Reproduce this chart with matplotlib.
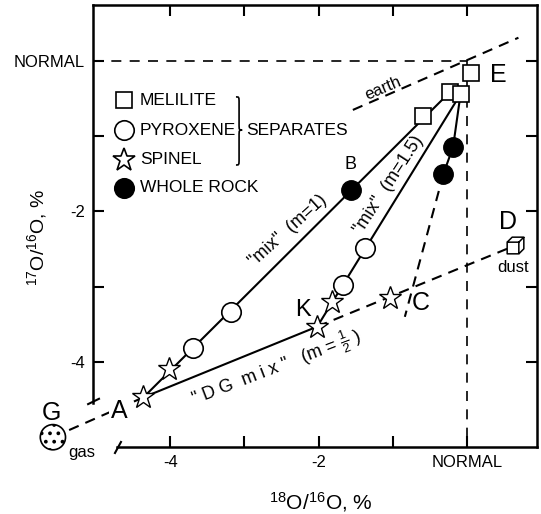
import matplotlib
matplotlib.use('Agg')
import matplotlib.pyplot as plt
from matplotlib.path import Path
from matplotlib.patches import PathPatch

plt.rcParams['font.family'] = ['Liberation Sans', 'DejaVu Sans']
plt.rcParams['mathtext.default'] = 'regular'
plt.rcParams['hatch.linewidth'] = 1.5

# delta 18O / delta 17O in %
melilite_x = [0.05, -0.23, -0.09, -0.59]
melilite_y = [-0.16, -0.41, -0.44, -0.73]
pyroxene_x = [-1.37, -1.67, -3.18, -3.69]
pyroxene_y = [-2.49, -2.98, -3.34, -3.81]
spinel_x = [-4.36, -4.01, -2.02, -1.82, -1.04]
spinel_y = [-4.47, -4.09, -3.53, -3.20, -3.15]
rock_x = [-1.56, -0.19, -0.32]
rock_y = [-1.71, -1.14, -1.50]

# end members
gas_x, gas_y = -5.58, -5.00
dust_x, dust_y = 0.65, -2.45

# mixing lines
mix1_x, mix1_y = [-4.36, -0.23], [-4.47, -0.41]
mix15_x, mix15_y = [-2.02, -0.09], [-3.53, -0.44]
dg_x, dg_y = [-4.36, -2.02], [-4.47, -3.53]
ga_x, ga_y = [gas_x, -4.36], [gas_y, -4.47]
kd_x, kd_y = [-2.02, dust_x], [-3.53, dust_y]
rock_x_line, rock_y_line = [-0.09, -0.19, -0.32], [-0.44, -1.14, -1.50]
rock_dash_x, rock_dash_y = [-0.32, -0.84], [-1.50, -3.40]
earth_x, earth_y = [-1.54, 0.69], [-0.65, 0.31]

xticks = [-4, -3, -2, -1, 0]
xticklabels = ['-4', '', '-2', '', 'NORMAL']
yticks = [-4, -3, -2, -1, 0]
yticklabels = ['-4', '', '-2', '', 'NORMAL']

# point letters
letters = ['E', 'B', 'C', 'D', 'K', 'A', 'G']
letters_x = [0.42, -1.57, -0.63, 0.55, -2.21, -4.69, -5.60]
letters_y = [-0.19, -1.38, -3.22, -2.14, -3.31, -4.65, -4.68]
letters_size = [18, 13, 18, 18, 17, 18, 18]

XMIN, XMAX = -5.04, 0.94
YMIN, YMAX = -5.13, 0.745

fig = plt.figure(figsize=(5.41, 5.14), dpi=100)
ax = fig.add_axes([0.1719, 0.1304, 0.8207, 0.8599])
ax.set_xlim(XMIN, XMAX)
ax.set_ylim(YMIN, YMAX)

lw = 1.5
dash = (0, (5, 3.5))

# normal lines
ax.plot([XMIN, 0], [0, 0], color='k', lw=1.2, ls=(0, (6, 5)), zorder=1)
ax.plot([0, 0], [0, YMIN], color='k', lw=1.2, ls=(0, (6, 5)), zorder=1)
# earth line
ax.plot(earth_x, earth_y, color='k', lw=lw, ls=dash, zorder=1)
ax.text(-1.13, -0.36, 'earth', fontsize=12, rotation=23, ha='center', va='center')

# gas - dust line
ax.plot(ga_x, ga_y, color='k', lw=lw, ls=dash, zorder=1, clip_on=False)
ax.plot(kd_x, kd_y, color='k', lw=lw, ls=dash, zorder=1)
ax.plot(dg_x, dg_y, color='k', lw=lw, zorder=2)
ax.plot(mix1_x, mix1_y, color='k', lw=lw, zorder=2)
ax.plot(mix15_x, mix15_y, color='k', lw=lw, zorder=2)
ax.plot(rock_x_line, rock_y_line, color='k', lw=lw, zorder=2)
ax.plot(rock_dash_x, rock_dash_y, color='k', lw=lw, ls=dash, zorder=2)

ms = 14
ax.plot(melilite_x, melilite_y, 's', ms=12, mfc='white', mec='k', mew=1.2, ls='none', zorder=4)
ax.plot(pyroxene_x, pyroxene_y, 'o', ms=ms, mfc='white', mec='k', mew=1.2, ls='none', zorder=4)
ax.plot(spinel_x, spinel_y, '*', ms=17, mfc='white', mec='k', mew=1.0, ls='none', zorder=4)
ax.plot(rock_x, rock_y, 'o', ms=ms, mfc='k', mec='k', ls='none', zorder=4)

# dust cube
cube = Path([(-1, -1), (0.4, -1), (0.4, 0.4), (-1, 0.4), (-1, -1),
             (-1, 0.4), (-0.4, 1), (1, 1), (0.4, 0.4),
             (1, 1), (1, -0.4), (0.4, -1)],
            [Path.MOVETO, Path.LINETO, Path.LINETO, Path.LINETO, Path.CLOSEPOLY,
             Path.MOVETO, Path.LINETO, Path.LINETO, Path.LINETO,
             Path.MOVETO, Path.LINETO, Path.LINETO])
ax.plot(dust_x, dust_y, marker=cube, ms=12, mfc='white', mec='k', mew=1.1, ls='none', zorder=4)
ax.text(0.62, -2.74, 'dust', fontsize=12, ha='center', va='center')

# gas blob
ax.scatter([gas_x], [gas_y], s=330, marker='o', facecolor='white', edgecolor='k',
           linewidth=1.2, hatch='..', zorder=4, clip_on=False)
ax.text(-5.19, -5.21, 'gas', fontsize=12, ha='center', va='center', clip_on=False)

for t, x, y, s in zip(letters, letters_x, letters_y, letters_size):
    box = dict(facecolor='white', edgecolor='none', pad=1) if t == 'A' else None
    ax.text(x, y, t, fontsize=s, ha='center', va='center', zorder=5, clip_on=False, bbox=box)

# line labels
ax.text(-2.42, -2.25, '"mix"  (m=1)', fontsize=13, rotation=42, ha='center', va='center')
ax.text(-1.05, -1.64, '"mix"  (m=1.5)', fontsize=13, rotation=57, ha='center', va='center')
ax.text(-2.57, -4.07, r'" D G  m i x "   (m = $\frac{1}{2}$ )', fontsize=13, rotation=21,
        ha='center', va='center')

# key
key = [('s', 'white', 12, 'MELILITE'), ('o', 'white', ms, 'PYROXENE'),
       ('*', 'white', 17, 'SPINEL'), ('o', 'k', ms, 'WHOLE ROCK')]
key_y = [0.785, 0.717, 0.650, 0.586]
for (m, fc, s, lab), yy in zip(key, key_y):
    ax.plot(0.07, yy, m, ms=s, mfc=fc, mec='k', mew=1.2, transform=ax.transAxes)
    ax.text(0.106, yy, lab, fontsize=12.5, ha='left', va='center', transform=ax.transAxes)

# brace
x0, w, r = 0.322, 0.014, 0.014
yt, ym, yb = 0.792, 0.717, 0.638
xm = x0 + w / 2
verts = [(x0, yt), (xm, yt), (xm, yt), (xm, yt - r), (xm, ym + r),
         (xm, ym), (xm, ym), (x0 + w, ym),
         (xm, ym), (xm, ym), (xm, ym - r), (xm, yb + r),
         (xm, yb), (xm, yb), (x0, yb)]
codes = [Path.MOVETO, Path.CURVE4, Path.CURVE4, Path.CURVE4, Path.LINETO,
         Path.CURVE4, Path.CURVE4, Path.CURVE4,
         Path.CURVE4, Path.CURVE4, Path.CURVE4, Path.LINETO,
         Path.CURVE4, Path.CURVE4, Path.CURVE4]
ax.add_patch(PathPatch(Path(verts, codes), fill=False, lw=1.2, transform=ax.transAxes))
ax.text(0.345, 0.717, 'SEPARATES', fontsize=12.5, ha='left', va='center', transform=ax.transAxes)

# axes
ax.set_xticks(xticks)
ax.set_xticklabels(xticklabels)
ax.set_yticks(yticks)
ax.set_yticklabels(yticklabels)
ax.tick_params(direction='in', length=8, width=1.5, top=True, right=True,
               labelsize=12, pad=6)
for sp in ax.spines.values():
    sp.set_linewidth(1.8)
ax.spines['left'].set_bounds(-4.545, YMAX)
ax.spines['bottom'].set_bounds(-4.72, XMAX)
# axis break marks
ax.plot([-0.011, 0.0135], [0.097, 0.109], color='k', lw=1.5, transform=ax.transAxes, clip_on=False)
ax.plot([0.0495, 0.063], [-0.0136, 0.0113], color='k', lw=1.5, transform=ax.transAxes, clip_on=False)

ax.text(0.514, -0.124, r'$^{18}$O/$^{16}$O, %', fontsize=15, ha='center', va='center',
        transform=ax.transAxes)
ax.text(-0.126, 0.473, r'$^{17}$O/$^{16}$O, %', fontsize=14, ha='center', va='center',
        rotation=90, transform=ax.transAxes)

fig.savefig('out.png', dpi=100)
